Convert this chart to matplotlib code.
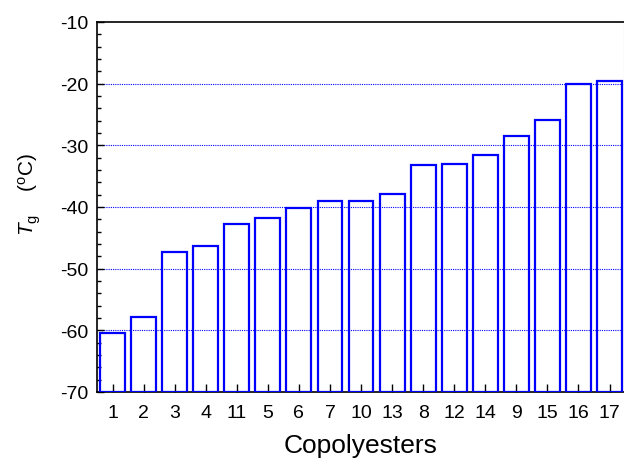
import numpy as np
import matplotlib
matplotlib.use('Agg')
from matplotlib import pyplot as plt
from matplotlib.ticker import MultipleLocator

plt.rcParams['font.family'] = ['Liberation Sans', 'DejaVu Sans']
plt.rcParams['mathtext.fontset'] = 'custom'
plt.rcParams['mathtext.rm'] = 'Liberation Sans'
plt.rcParams['mathtext.it'] = 'Liberation Sans:italic'
plt.rcParams['axes.unicode_minus'] = False

# Copolyester labels, in plotted order, and their Tg values (deg C)
samples = ['1', '2', '3', '4', '11', '5', '6', '7', '10', '13',
           '8', '12', '14', '9', '15', '16', '17']
tg = [-60.4, -57.9, -47.3, -46.4, -42.8, -41.8, -40.2, -39.1, -39.0, -37.9,
      -33.2, -33.1, -31.5, -28.5, -25.9, -20.1, -19.6]

ymin = -70.

x = np.arange(1, len(samples) + 1)

fig = plt.figure(figsize=(6.24, 4.6), dpi=100)
ax = fig.add_axes([97/624., 67/460., 526.5/624., 370/460.])

ax.bar(x, np.array(tg) - ymin, bottom=ymin, width=0.8, fill=False,
       edgecolor='#0000ff', linewidth=1.6, zorder=3)

for yv in [-20, -30, -40, -50, -60]:
    ax.axhline(yv, color='#0000ff', linestyle=(0, (1, 1)), linewidth=0.8, zorder=1)

ax.set_xlim(0.5, 17.45)
ax.set_ylim(-70, -10)
ax.set_xticks(x)
ax.set_xticklabels(samples)
ax.yaxis.set_major_locator(MultipleLocator(10))
ax.yaxis.set_minor_locator(MultipleLocator(2))

ax.tick_params(axis='both', which='both', direction='in', labelsize=14)
ax.tick_params(axis='y', which='major', length=5, width=1, pad=6)
ax.tick_params(axis='y', which='minor', length=3, width=1)
ax.tick_params(axis='x', which='major', length=5.5, width=1, pad=9)
ax.tick_params(axis='x', which='minor', bottom=False)

for s in ['left', 'bottom', 'top']:
    ax.spines[s].set_linewidth(1.2)
ax.spines['right'].set_color('#c0c0c0')
ax.spines['right'].set_linewidth(0.8)

ax.set_xlabel('Copolyesters', fontsize=19, labelpad=8.5)
ax.set_ylabel(r'$\mathit{T}_{\rm g}$    ($^{\rm o}$C)', fontsize=15)
ax.yaxis.set_label_coords(-0.102, 0.538)

fig.savefig('out.png', dpi=100)
